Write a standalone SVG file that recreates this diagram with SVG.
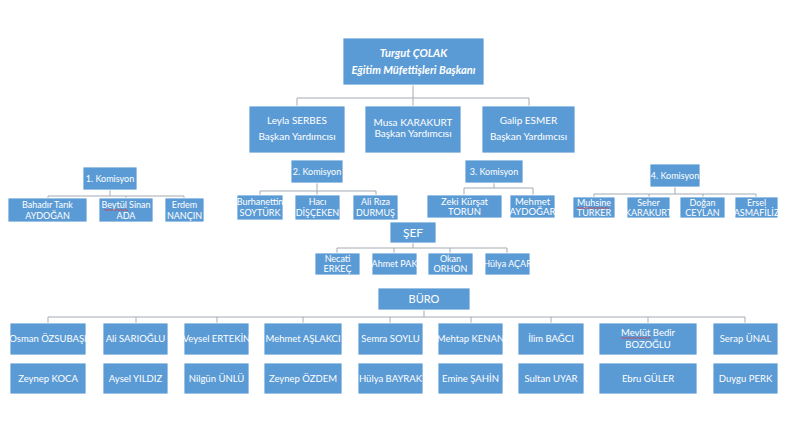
<svg xmlns="http://www.w3.org/2000/svg" width="800" height="438" viewBox="0 0 800 438">
<style>
.b{fill:#5B9BD5;stroke:#ffffff;stroke-width:0.8}
.t{font-family:Lato,"Liberation Sans",sans-serif;fill:#ffffff;text-anchor:middle}
.s{font-size:9px}
.m{font-size:9.5px}
.l{font-size:10px}
.h{font-size:11px;font-weight:bold;font-style:italic}
.c line{stroke:#A3ABB5;stroke-width:1}
.sq{fill:none;stroke:#E03030;stroke-width:0.7}
</style>
<rect width="800" height="438" fill="#ffffff"/>
<g class="c" id="connectors">
<line x1="413" y1="85" x2="413" y2="98"/>
<line x1="297" y1="98" x2="529" y2="98"/>
<line x1="297" y1="98" x2="297" y2="106"/>
<line x1="413" y1="98" x2="413" y2="106"/>
<line x1="529" y1="98" x2="529" y2="106"/>
<line x1="110" y1="190" x2="110" y2="196"/>
<line x1="48" y1="196" x2="184" y2="196"/>
<line x1="48" y1="196" x2="48" y2="198"/>
<line x1="126" y1="196" x2="126" y2="198"/>
<line x1="184" y1="196" x2="184" y2="198"/>
<line x1="317" y1="183" x2="317" y2="191"/>
<line x1="260" y1="191" x2="376" y2="191"/>
<line x1="260" y1="191" x2="260" y2="195"/>
<line x1="317" y1="191" x2="317" y2="195"/>
<line x1="376" y1="191" x2="376" y2="195"/>
<line x1="494" y1="183" x2="494" y2="188"/>
<line x1="464" y1="188" x2="533" y2="188"/>
<line x1="464" y1="188" x2="464" y2="195"/>
<line x1="533" y1="188" x2="533" y2="195"/>
<line x1="675" y1="187" x2="675" y2="194"/>
<line x1="594" y1="194" x2="756" y2="194"/>
<line x1="594" y1="194" x2="594" y2="197"/>
<line x1="649" y1="194" x2="649" y2="197"/>
<line x1="703" y1="194" x2="703" y2="197"/>
<line x1="756" y1="194" x2="756" y2="197"/>
<line x1="413" y1="243" x2="413" y2="248"/>
<line x1="337" y1="248" x2="507" y2="248"/>
<line x1="337" y1="248" x2="337" y2="253"/>
<line x1="394" y1="248" x2="394" y2="253"/>
<line x1="450" y1="248" x2="450" y2="253"/>
<line x1="507" y1="248" x2="507" y2="253"/>
<line x1="424" y1="310" x2="424" y2="317"/>
<line x1="48" y1="317" x2="745" y2="317"/>
<line x1="48" y1="317" x2="48" y2="323"/>
<line x1="136" y1="317" x2="136" y2="323"/>
<line x1="217" y1="317" x2="217" y2="323"/>
<line x1="303" y1="317" x2="303" y2="323"/>
<line x1="390" y1="317" x2="390" y2="323"/>
<line x1="471" y1="317" x2="471" y2="323"/>
<line x1="551" y1="317" x2="551" y2="323"/>
<line x1="648" y1="317" x2="648" y2="323"/>
<line x1="745" y1="317" x2="745" y2="323"/>
</g>
<g id="baskan"><rect class="b" x="343" y="38" width="141" height="47"/><text class="t h" x="413.5" y="57">Turgut ÇOLAK</text><text class="t h" x="413.5" y="74">Eğitim Müfettişleri Başkanı</text></g>
<g id="leyla"><rect class="b" x="249" y="106" width="96" height="47"/><text class="t l" x="297" y="124">Leyla SERBES</text><text class="t l" x="297" y="140">Başkan Yardımcısı</text></g>
<g id="musa"><rect class="b" x="365" y="106" width="96" height="47"/><text class="t l" x="413" y="126">Musa KARAKURT</text><text class="t l" x="413" y="137">Başkan Yardımcısı</text></g>
<g id="galip"><rect class="b" x="482" y="106" width="93" height="47"/><text class="t l" x="528.5" y="124">Galip ESMER</text><text class="t l" x="528.5" y="140">Başkan Yardımcısı</text></g>
<g id="kom1"><rect class="b" x="83" y="167" width="54" height="23"/><text class="t s" x="110" y="182">1. Komisyon</text></g>
<g id="k1a"><rect class="b" x="8" y="198" width="79" height="24"/><text class="t s" x="47.5" y="208">Bahadır Tarık</text><text class="t s" x="47.5" y="219">AYDOĞAN</text></g>
<g id="k1b"><rect class="b" x="99" y="198" width="54" height="24"/><text class="t s" x="126" y="208">Beytül Sinan</text><text class="t s" x="126" y="219">ADA</text><path class="sq" d="M104 210 q1 -1 2 0 t2 0 t2 0 t2 0 t2 0 t2 0 t2 0 t2 0 t2 0 t2 0 t2 0 t2 0"/></g>
<g id="k1c"><rect class="b" x="165" y="198" width="39" height="24"/><text class="t s" x="184.5" y="208">Erdem</text><text class="t s" x="184.5" y="219">NANÇIN</text></g>
<g id="kom2"><rect class="b" x="291" y="160" width="52" height="23"/><text class="t s" x="317" y="175">2. Komisyon</text></g>
<g id="k2a"><rect class="b" x="237" y="195" width="46" height="25"/><text class="t s" x="260" y="205">Burhanettin</text><text class="t s" x="260" y="216">SOYTÜRK</text></g>
<g id="k2b"><rect class="b" x="295" y="195" width="45" height="25"/><text class="t s" x="317.5" y="205">Hacı</text><text class="t s" x="317.5" y="216">DİŞÇEKEN</text></g>
<g id="k2c"><rect class="b" x="353" y="195" width="45" height="25"/><text class="t s" x="375.5" y="205">Ali Rıza</text><text class="t s" x="375.5" y="216">DURMUŞ</text></g>
<g id="kom3"><rect class="b" x="465" y="160" width="58" height="23"/><text class="t s" x="494" y="175">3. Komisyon</text></g>
<g id="k3a"><rect class="b" x="427" y="195" width="75" height="23"/><text class="t m" x="464.5" y="205">Zeki Kürşat</text><text class="t m" x="464.5" y="215">TORUN</text></g>
<g id="k3b"><rect class="b" x="510" y="195" width="45" height="23"/><text class="t m" x="532.5" y="205">Mehmet</text><text class="t m" x="532.5" y="215">AYDOĞAR</text></g>
<g id="kom4"><rect class="b" x="650" y="164" width="50" height="23"/><text class="t s" x="675" y="179">4. Komisyon</text></g>
<g id="k4a"><rect class="b" x="573" y="197" width="42" height="21"/><text class="t s" x="594" y="206">Muhsine</text><text class="t s" x="594" y="216">TÜRKER</text><path class="sq" d="M577 208 q1 -1 2 0 t2 0 t2 0 t2 0 t2 0 t2 0 t2 0 t2 0 t2 0 t2 0 t2 0 t2 0 t2 0 t2 0 t2 0 t2 0"/></g>
<g id="k4b"><rect class="b" x="627" y="197" width="43" height="21"/><text class="t s" x="648.5" y="206">Seher</text><text class="t s" x="648.5" y="216">KARAKURT</text></g>
<g id="k4c"><rect class="b" x="680" y="197" width="45" height="21"/><text class="t s" x="702.5" y="206">Doğan</text><text class="t s" x="702.5" y="216">CEYLAN</text></g>
<g id="k4d"><rect class="b" x="735" y="197" width="43" height="21"/><text class="t s" x="756.5" y="206">Ersel</text><text class="t s" x="756.5" y="216">ASMAFİLİZ</text></g>
<g id="sef"><rect class="b" x="390" y="222" width="46" height="21"/><text class="t" x="413" y="237" font-size="12">ŞEF</text></g>
<g id="s1"><rect class="b" x="315" y="253" width="45" height="22"/><text class="t s" x="337.5" y="262">Necati</text><text class="t s" x="337.5" y="272">ERKEÇ</text></g>
<g id="s2"><rect class="b" x="372" y="253" width="45" height="22"/><text class="t s" x="394.5" y="267">Ahmet PAK</text></g>
<g id="s3"><rect class="b" x="428" y="253" width="45" height="22"/><text class="t s" x="450.5" y="262">Okan</text><text class="t s" x="450.5" y="272">ORHON</text></g>
<g id="s4"><rect class="b" x="485" y="253" width="45" height="22"/><text class="t s" x="507.5" y="267">Hülya AÇAR</text></g>
<g id="buro"><rect class="b" x="378" y="288" width="92" height="22"/><text class="t" x="424" y="303" font-size="11">BÜRO</text></g>
<g id="b1"><rect class="b" x="10" y="323" width="76" height="32"/><text class="t m" x="48" y="342">Osman ÖZSUBAŞI</text></g>
<g id="b2"><rect class="b" x="103" y="323" width="65" height="32"/><text class="t m" x="135.5" y="342">Ali SARIOĞLU</text></g>
<g id="b3"><rect class="b" x="184" y="323" width="65" height="32"/><text class="t m" x="216.5" y="342">Veysel ERTEKİN</text></g>
<g id="b4"><rect class="b" x="264" y="323" width="78" height="32"/><text class="t m" x="303" y="342">Mehmet AŞLAKCI</text></g>
<g id="b5"><rect class="b" x="358" y="323" width="65" height="32"/><text class="t m" x="390.5" y="342">Semra SOYLU</text></g>
<g id="b6"><rect class="b" x="438" y="323" width="65" height="32"/><text class="t m" x="470.5" y="342">Mehtap KENAN</text></g>
<g id="b7"><rect class="b" x="518" y="323" width="66" height="32"/><text class="t m" x="551" y="342">İlim BAĞCI</text></g>
<g id="b8"><rect class="b" x="599" y="323" width="98" height="32"/><text class="t m" x="648" y="336">Mevlüt Bedir</text><text class="t m" x="648" y="348">BOZOĞLU</text><path class="sq" d="M621 338 q1 -1 2 0 t2 0 t2 0 t2 0 t2 0 t2 0 t2 0 t2 0 t2 0 t2 0 t2 0 t2 0 t2 0 t2 0 t2 0"/></g>
<g id="b9"><rect class="b" x="713" y="323" width="65" height="32"/><text class="t m" x="745.5" y="342">Serap ÜNAL</text></g>
<g id="b10"><rect class="b" x="10" y="363" width="76" height="31"/><text class="t m" x="48" y="382">Zeynep KOCA</text></g>
<g id="b11"><rect class="b" x="103" y="363" width="65" height="31"/><text class="t m" x="135.5" y="382">Aysel YILDIZ</text></g>
<g id="b12"><rect class="b" x="184" y="363" width="65" height="31"/><text class="t m" x="216.5" y="382">Nilgün ÜNLÜ</text></g>
<g id="b13"><rect class="b" x="264" y="363" width="78" height="31"/><text class="t m" x="303" y="382">Zeynep ÖZDEM</text></g>
<g id="b14"><rect class="b" x="358" y="363" width="65" height="31"/><text class="t m" x="390.5" y="382">Hülya BAYRAK</text></g>
<g id="b15"><rect class="b" x="438" y="363" width="65" height="31"/><text class="t m" x="470.5" y="382">Emine ŞAHİN</text></g>
<g id="b16"><rect class="b" x="518" y="363" width="66" height="31"/><text class="t m" x="551" y="382">Sultan UYAR</text></g>
<g id="b17"><rect class="b" x="599" y="363" width="98" height="31"/><text class="t m" x="648" y="382">Ebru GÜLER</text></g>
<g id="b18"><rect class="b" x="713" y="363" width="65" height="31"/><text class="t m" x="745.5" y="382">Duygu PERK</text></g>
</svg>
